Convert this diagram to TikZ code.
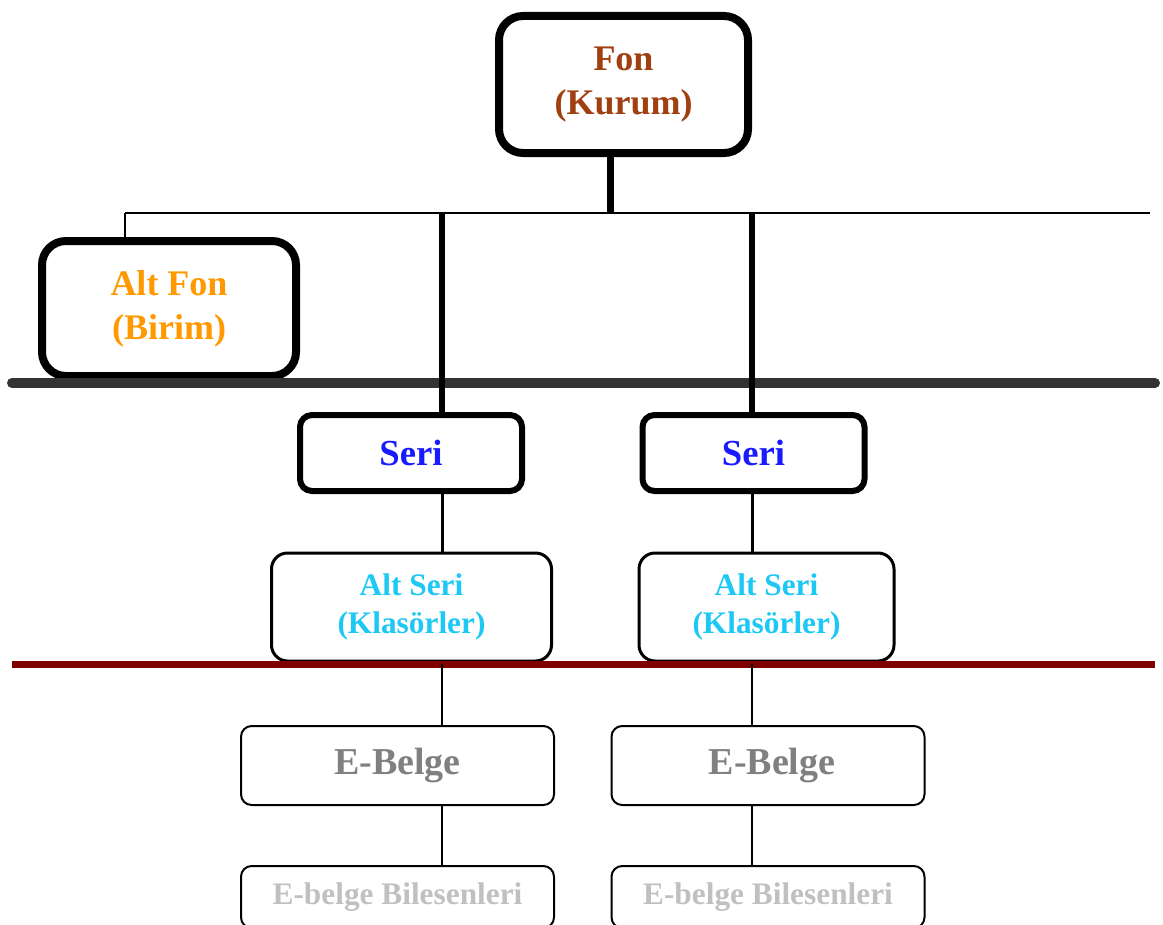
\documentclass[tikz,border=0pt]{standalone}
\usepackage{fontspec}
\setmainfont{Liberation Serif}
\definecolor{fonc}{RGB}{160,64,16}
\definecolor{altfonc}{RGB}{255,153,0}
\definecolor{seric}{RGB}{26,26,255}
\definecolor{altseric}{RGB}{30,200,245}
\definecolor{ebelgec}{RGB}{128,128,128}
\definecolor{bilc}{RGB}{192,192,192}
\definecolor{greyline}{RGB}{51,51,51}
\definecolor{redline}{RGB}{128,0,0}
\begin{document}
\begin{tikzpicture}[x=0.75pt,y=-0.75pt,
  box/.style={draw=black,fill=white,align=center,inner sep=0pt},
  bigfont/.style={font=\fontsize{27}{33}\selectfont\bfseries},
  thickbox/.style={box,line width=6pt,rounded corners=18pt,bigfont},
  seribox/.style={box,line width=4.5pt,rounded corners=9pt,text=seric,font=\fontsize{27.5}{30}\selectfont\bfseries,minimum width=166.5pt,minimum height=57pt},
  altseribox/.style={box,line width=2.25pt,rounded corners=12pt,text=altseric,font=\fontsize{23.5}{28.5}\selectfont\bfseries,minimum height=81pt},
  ebelgebox/.style={box,line width=1.5pt,rounded corners=8pt,text=ebelgec,font=\fontsize{28.5}{30}\selectfont\bfseries,minimum width=234.75pt,minimum height=59.25pt},
  bilbox/.style={box,line width=1.5pt,rounded corners=8pt,text=bilc,font=\fontsize{23.5}{26}\selectfont\bfseries,minimum width=234.75pt,minimum height=46.5pt},
  thinline/.style={draw=black,line width=1.5pt},
  midline/.style={draw=black,line width=2.25pt},
  heavyline/.style={draw=black,line width=4pt},
]
\path[use as bounding box] (0,0) rectangle (1163,924);
\clip (0,0) rectangle (1163,924);
\fill[white] (0,0) rectangle (1163,924);

% boxes
\node[thickbox,text=fonc,minimum width=186.75pt,minimum height=102.75pt] (fon) at (623.5,84.5) {Fon\\(Kurum)};
\node[thickbox,text=altfonc,minimum width=190.5pt,minimum height=101.25pt] (altfon) at (169,308.5) {Alt Fon\\(Birim)};
\node[seribox] (seri1) at (411,453) {Seri};
\node[seribox] (seri2) at (753.5,453) {Seri};
\node[altseribox,minimum width=210pt] (altseri1) at (411.5,607) {Alt Seri\\(Klasörler)};
\node[altseribox,minimum width=191.25pt] (altseri2) at (766.5,607) {Alt Seri\\(Klasörler)};
\node[ebelgebox] (ebelge1) at (397.5,765.5) {E-Belge};
\node[ebelgebox] (ebelge2) at (768,765.5) {\hspace*{6pt}E-Belge};
\node[bilbox] (bil1) at (397.5,897) {E-belge Bilesenleri};
\node[bilbox] (bil2) at (768,897) {E-belge Bilesenleri};

% horizontal bars
\coordinate (gL) at (12,383);
\coordinate (gR) at (1155,383);
\coordinate (rL) at (12,664);
\coordinate (rR) at (1155,664);
\draw[greyline,line width=7.5pt,line cap=round] (gL) -- (gR);
\draw[redline,line width=5.25pt] (rL) -- (rR);

% top bus
\coordinate (busL) at (125,213);
\coordinate (busR) at (1150,213);
\coordinate (j1) at (442,213);
\coordinate (j2) at (752,213);
\draw[thinline] (busL) -- (busR);
\draw[thinline] (busL) -- (busL |- altfon.north);
\draw[black,line width=5.25pt] ([xshift=-10pt]fon.south) -- ([xshift=-10pt]fon.south |- busL);
\draw[heavyline] (j1) -- (j1 |- seri1.north);
\draw[heavyline] (j2) -- (j2 |- seri2.north);

% lower connectors
\draw[midline] (j1 |- seri1.south) -- (j1 |- altseri1.north);
\draw[midline] (j2 |- seri2.south) -- (j2 |- altseri2.north);
\draw[thinline] (j1 |- rL) -- (j1 |- ebelge1.north);
\draw[thinline] (j2 |- rL) -- (j2 |- ebelge2.north);
\draw[thinline] (j1 |- ebelge1.south) -- (j1 |- bil1.north);
\draw[thinline] (j2 |- ebelge2.south) -- (j2 |- bil2.north);
\end{tikzpicture}
\end{document}
